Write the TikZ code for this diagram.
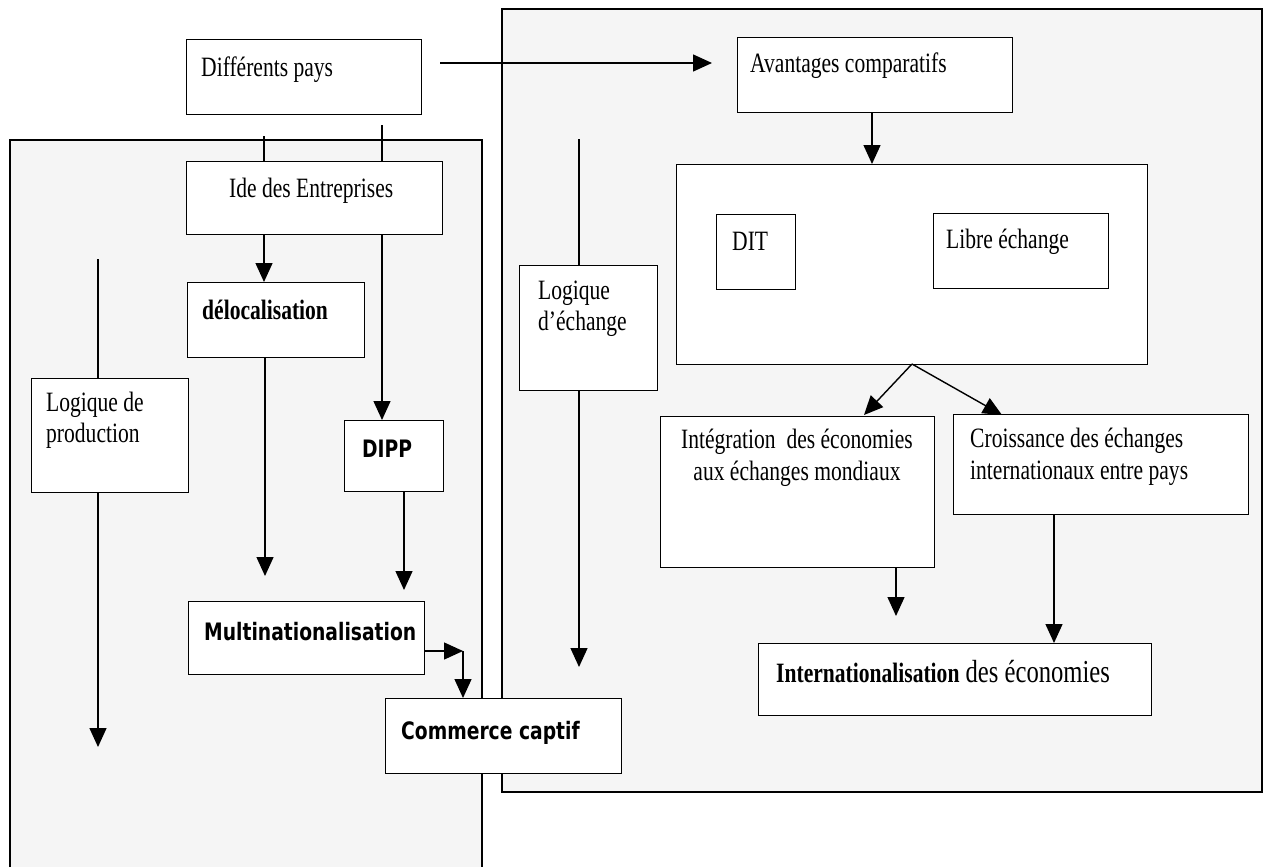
\documentclass[tikz,border=0pt]{standalone}
\usepackage{fontspec}
\setmainfont{Liberation Serif}[FakeStretch=0.77]
\newfontfamily\comic{DejaVu Sans}[FakeStretch=0.78]
\usetikzlibrary{arrows.meta}
\begin{document}
\begin{tikzpicture}[x=1pt,y=-1pt,
  frame/.style={draw=black,line width=1.2pt,fill=black!4},
  box/.style={draw=black,line width=1.4pt,fill=white,rectangle,inner sep=0pt,anchor=north west},
  txt/.style={anchor=base west,inner sep=0pt,font=\fontsize{28}{32}\selectfont},
  btxt/.style={txt,font=\fontsize{28}{32}\selectfont\bfseries},
  ctxt/.style={anchor=base west,inner sep=0pt,font=\fontsize{24}{28}\selectfont\comic\bfseries},
  conn/.style={line width=1.4pt},
  arr/.style={conn,-{Triangle[width=17pt,length=19pt]}}]
\useasboundingbox (0,0) rectangle (1265,867);
\fill[white] (0,0) rectangle (1265,867);
% frames
\filldraw[frame] (502,9) rectangle (1262,792);
\fill[black!4] (10,140) rectangle (482,867);
\draw[line width=1.2pt] (10,867) -- (10,140) -- (482,140) -- (482,867);
% boxes
\node[box,minimum width=235pt,minimum height=75pt] (pays) at (186,39) {};
\node[box,minimum width=256pt,minimum height=73pt] (ide) at (186,161) {};
\node[box,minimum width=177pt,minimum height=75pt] (deloc) at (187,282) {};
\node[box,minimum width=157pt,minimum height=114pt] (logprod) at (31,378) {};
\node[box,minimum width=99pt,minimum height=71pt] (dipp) at (344,420) {};
\node[box,minimum width=236pt,minimum height=73pt] (multi) at (188,601) {};
\node[box,minimum width=138pt,minimum height=125pt] (logech) at (519,265) {};
\node[box,minimum width=275pt,minimum height=75pt] (avant) at (737,37) {};
\node[box,minimum width=471pt,minimum height=200pt] (cont) at (676,164) {};
\node[box,minimum width=79pt,minimum height=75pt] (dit) at (716,214) {};
\node[box,minimum width=175pt,minimum height=75pt] (libre) at (933,213) {};
\node[box,minimum width=274pt,minimum height=151pt] (integ) at (660,416) {};
\node[box,minimum width=295pt,minimum height=100pt] (croiss) at (953,414) {};
\node[box,minimum width=393pt,minimum height=72pt] (internat) at (758,643) {};
% connectors (left part)
\coordinate (p1) at (264,136);
\coordinate (p2) at (382,125);
\draw[conn] (p1) -- (p1 |- ide.north);
\draw[conn] (p2) -- (p2 |- ide.north);
\draw[arr] (ide.south -| p1) -- (deloc.north -| p1);
\draw[arr] (ide.south -| p2) -- (dipp.north -| p2);
\coordinate (lp) at (98,259);
\coordinate (lpend) at (98,747);
\draw[conn] (lp) -- (lp |- logprod.north);
\draw[arr] (logprod.south -| lp) -- (lpend);
\coordinate (dl) at (265,576);
\draw[arr] (deloc.south -| dl) -- (dl);
\coordinate (dp) at (404,590);
\draw[arr] (dipp.south -| dp) -- (dp);
\coordinate (mc) at (463,651);
\draw[arr] (multi.east |- mc) -- (mc);
\draw[conn] (mc) -- ++(0,10);
% commerce box drawn over frames
\node[box,minimum width=236pt,minimum height=75pt] (comm) at (385,698) {};
\draw[arr] (mc) -- (comm.north -| mc);
% logique d'echange line
\coordinate (le) at (579,139);
\coordinate (leend) at (579,667);
\draw[conn] (le) -- (le |- logech.north);
\draw[arr] (logech.south -| le) -- (leend);
% right part
\coordinate (ps) at (440,63);
\coordinate (pe) at (712,63);
\draw[arr] (ps) -- (pe);
\coordinate (ac) at (872,112);
\draw[arr] (avant.south -| ac) -- (cont.north -| ac);
\coordinate (cb) at (912,364);
\coordinate (ti) at (864,415);
\coordinate (tc) at (1002,415);
\draw[arr] (cb) -- (ti);
\draw[arr] (cb) -- (tc);
\coordinate (ii) at (896,616);
\draw[arr] (integ.south -| ii) -- (ii);
\coordinate (ci) at (1054,515);
\draw[arr] (croiss.south -| ci) -- (internat.north -| ci);
% texts
\node[txt] (tpays) at (201,76) {Différents pays};
\node[txt] (tide) at (229,197) {Ide des Entreprises};
\node[btxt] (tdeloc) at (202,319) {délocalisation};
\node[txt] (tlp1) at (46,411) {Logique de};
\node[txt] (tlp2) at (46,442) {production};
\node[ctxt] (tdipp) at (362,457) {DIPP};
\node[ctxt] (tmulti) at (204,640) {Multinationalisation};
\node[ctxt] (tcomm) at (401,739) {Commerce captif};
\node[txt] (tle1) at (538,299) {Logique};
\node[txt] (tle2) at (538,330) {d’échange};
\node[txt] (tavant) at (750,73) {Avantages comparatifs};
\node[txt] (tdit) at (732,250) {DIT};
\node[txt] (tlibre) at (946,248) {Libre échange};
\node[anchor=base,inner sep=0pt,font=\fontsize{28}{32}\selectfont] (tint1) at (797,448) {Intégration\ \ des économies};
\node[anchor=base,inner sep=0pt,font=\fontsize{28}{32}\selectfont] (tint2) at (797,480) {aux échanges mondiaux};
\node[txt] (tcr1) at (970,447) {Croissance des échanges};
\node[txt] (tcr2) at (970,479) {internationaux entre pays};
\node[anchor=base west,inner sep=0pt] (tinternat) at (776,682) {\fontsize{28}{32}\selectfont\bfseries Internationalisation\fontsize{32}{36}\selectfont\mdseries\ des économies};
\end{tikzpicture}
\end{document}
